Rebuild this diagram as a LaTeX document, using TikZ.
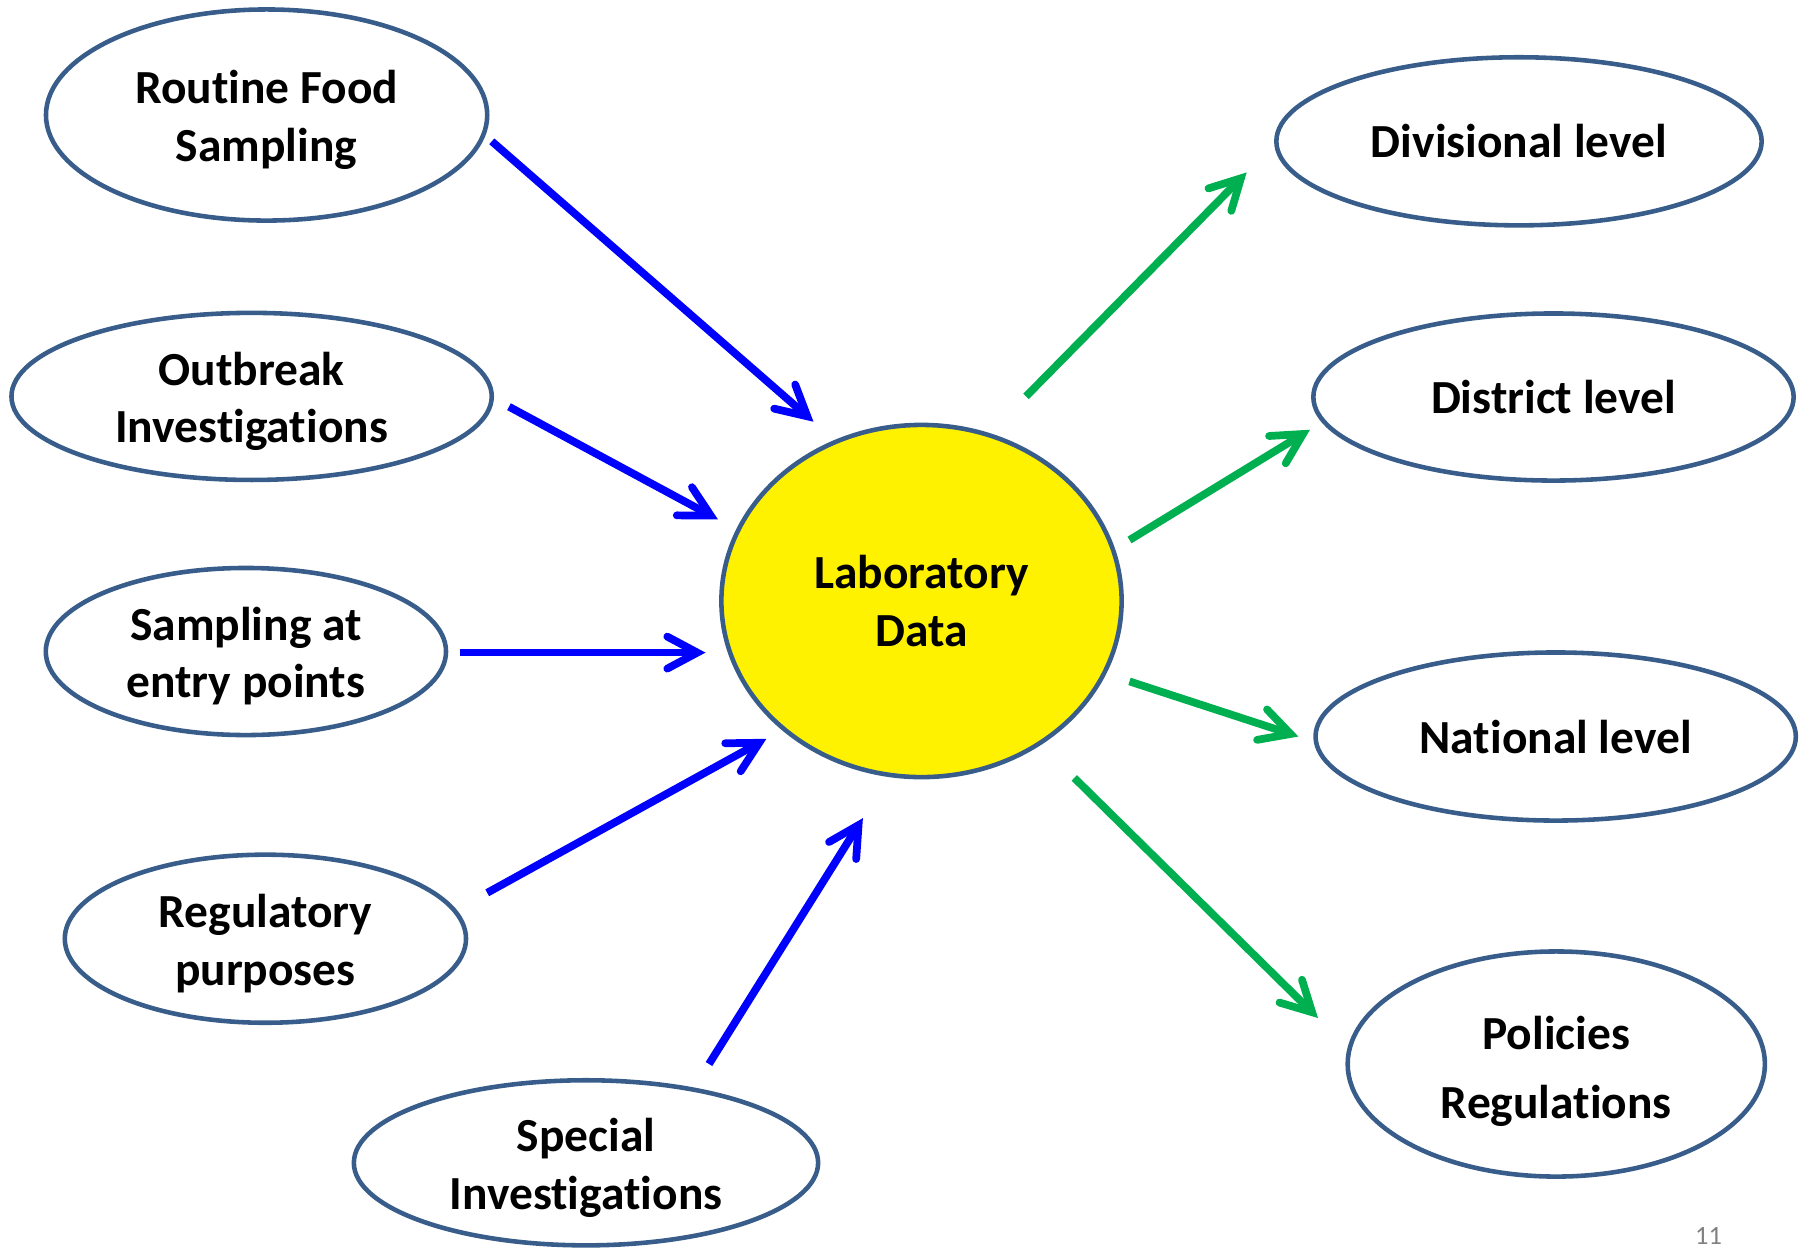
\documentclass[tikz,border=0pt]{standalone}
\usepackage{fontspec}
\setmainfont{Carlito}[Ligatures={CommonOff,ContextualOff}]
\usepackage{tikz}
\usetikzlibrary{arrows.meta,shapes.geometric}

\definecolor{rim}{RGB}{56,93,138}
\definecolor{inblue}{RGB}{0,0,255}
\definecolor{outgreen}{RGB}{0,176,80}
% two centred lines, set a little below the middle of the shape
\newcommand\twolines[2]{\raisebox{-0.06cm}[\height][\depth]{\begin{tabular}{@{}c@{}}#1\\#2\end{tabular}}}

\begin{document}
\begin{tikzpicture}[x=0.01cm,y=-0.01cm,
                    blob/.style={ellipse,draw=rim,line width=1.3pt,inner sep=0pt,
                                 font=\fontsize{13.5}{16.4}\selectfont\bfseries},
                    feed/.style={draw=inblue,line width=2.2pt,
                                 -{Straight Barb[length=0.3cm,width=0.32cm,line cap=round]}},
                    report/.style={feed,draw=outgreen}]
      \useasboundingbox (0,0) rectangle (1802,1247);
      % sources
      \node[blob,minimum width=4.41cm,minimum height=2.11cm](rfs) at (266.6,115)   {\twolines{Routine Food}{Sampling}};
      \node[blob,minimum width=4.80cm,minimum height=1.67cm](obi) at (251.6,396.4) {\twolines{Outbreak}{Investigations}};
      \node[blob,minimum width=4.00cm,minimum height=1.67cm](sep) at (245.9,651.5) {\twolines{Sampling at}{entry points}};
      \node[blob,minimum width=4.01cm,minimum height=1.68cm](reg) at (265.4,938.7) {\twolines{Regulatory}{purposes}};
      \node[blob,minimum width=4.64cm,minimum height=1.65cm](spi) at (586,1162.8)  {\twolines{Special}{Investigations}};
      % hub
      \node[blob,fill=yellow,align=center,minimum width=4.00cm,minimum height=3.52cm](lab) at (921.5,601) {Laboratory\\Data};
      % users
      \node[blob,minimum width=4.85cm,minimum height=1.68cm](div) at (1519,141.3)  {Divisional level};
      \node[blob,minimum width=4.80cm,minimum height=1.67cm](dis) at (1553.5,397)  {District level};
      \node[blob,minimum width=4.80cm,minimum height=1.68cm](nat) at (1555.7,736.5) {National level};
      \node[blob,minimum width=4.17cm,minimum height=2.25cm,
            font=\fontsize{13.5}{19.6}\selectfont\bfseries](pol) at (1556.3,1064) {\twolines{Policies}{Regulations}};
      \node[text=gray,font=\fontsize{7.5}{9}\selectfont](pg) at (1708.6,1236) {11};
      % arrow ends
      \coordinate (rfs-o) at (491.8,141.3);  \coordinate (rfs-i) at (813.5,421.7);
      \coordinate (obi-o) at (509,406.7);    \coordinate (obi-i) at (718,519.4);
      \coordinate (sep-o) at (459.6,652.6);  \coordinate (sep-i) at (705.5,652.6);
      \coordinate (reg-o) at (487.2,892.8);  \coordinate (reg-i) at (766.4,738.8);
      \coordinate (spi-o) at (709,1064);     \coordinate (spi-i) at (862.9,818.1);
      \coordinate (div-o) at (1026,396.4);   \coordinate (div-i) at (1246.7,172.4);
      \coordinate (dis-o) at (1129.5,540);   \coordinate (dis-i) at (1310,429.7);
      \coordinate (nat-o) at (1129.5,681.4); \coordinate (nat-i) at (1298.4,736.5);
      \coordinate (pol-o) at (1074.3,777.9); \coordinate (pol-i) at (1318,1018);
      \path (rfs-o) edge [feed]   (rfs-i)
            (obi-o) edge [feed]   (obi-i)
            (sep-o) edge [feed]   (sep-i)
            (reg-o) edge [feed]   (reg-i)
            (spi-o) edge [feed]   (spi-i)
            (div-o) edge [report] (div-i)
            (dis-o) edge [report] (dis-i)
            (nat-o) edge [report] (nat-i)
            (pol-o) edge [report] (pol-i);
\end{tikzpicture}
\end{document}
